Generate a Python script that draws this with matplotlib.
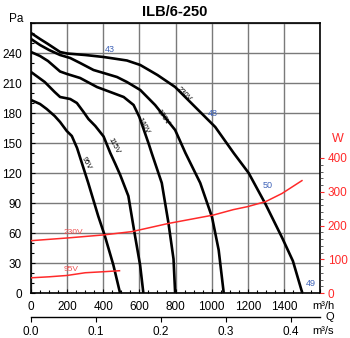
import matplotlib
matplotlib.use("Agg")
import matplotlib.pyplot as plt
import numpy as np
from matplotlib.ticker import FixedLocator

plt.rcParams['font.family'] = ['Liberation Sans', 'DejaVu Sans']

# ---- data (Q in m3/h, pressure in Pa) ----
q_230 = [0, 50, 94, 161, 200, 300, 402, 531, 605, 700, 798, 909, 1020, 1122, 1205, 1298, 1391, 1450, 1502]
p_230 = [260, 254, 249, 241, 239.5, 238, 236, 232.5, 228, 218, 206, 186, 166, 140, 120, 89, 55, 32, 0]

q_170 = [0, 50, 100, 161, 217, 272, 346, 402, 476, 531, 605, 687, 798, 855, 937, 1002, 1039, 1067]
p_170 = [254, 248, 243, 238, 235, 230, 223, 220, 216, 211, 203, 188, 163, 140, 110, 76, 43, 0]

q_140 = [0, 50, 94, 161, 200, 272, 365, 439, 513, 568, 600, 652, 668, 724, 761, 789, 798]
p_140 = [241, 237, 232, 221.5, 219, 215, 206, 201, 196, 188, 176, 149, 140, 110, 70, 34, 0]

q_115 = [0, 76, 131, 161, 217, 254, 291, 318, 356, 402, 439, 467, 494, 539, 576, 604, 622]
p_115 = [221, 211, 201, 196, 194, 190, 181, 174, 167, 156.5, 140, 129, 118, 97, 57, 28, 0]

q_95 = [0, 50, 87, 131, 161, 198, 226, 255, 317, 372, 409, 456, 493]
p_95 = [193, 189, 184, 177, 171, 162, 157, 145, 110, 77, 57, 28, 0]

# power curves (W)
qw_230 = [0, 200, 400, 560, 760, 1010, 1120, 1200, 1300, 1390, 1500]
w_230 = [155, 163, 172, 182, 206, 231, 247, 256, 271, 295, 333]
qw_95 = [0, 100, 200, 300, 400, 490]
w_95 = [45, 48, 52, 60, 63, 66]

x_ticks = [0, 200, 400, 600, 800, 1000, 1200, 1400, 1600]
x_labels = ['0', '200', '400', '600', '800', '1000', '1200', '1400', '']
y_ticks = [0, 30, 60, 90, 120, 150, 180, 210, 240, 270]
y_labels = ['0', '30', '60', '90', '120', '150', '180', '210', '240', '']
w_ticks = [0, 100, 200, 300, 400]
s_ticks = [0.0, 0.1, 0.2, 0.3, 0.4]
s_labels = ['0.0', '0.1', '0.2', '0.3', '0.4']

W, H = 350, 338
fig = plt.figure(figsize=(W / 100, H / 100), dpi=100)
ax = fig.add_axes([31 / W, 1 - 293 / H, 289 / W, 270 / H])
ax.set_xlim(0, 1600)
ax.set_ylim(0, 270)

ax.set_xticks(x_ticks)
ax.set_xticklabels(x_labels)
ax.set_yticks(y_ticks)
ax.set_yticklabels(y_labels)
ax.xaxis.set_minor_locator(FixedLocator(np.arange(0, 1601, 50)))
ax.yaxis.set_minor_locator(FixedLocator(np.arange(0, 271, 10)))
ax.tick_params(axis='both', which='major', direction='in', length=3, width=0.8, labelsize=8.5)
ax.tick_params(axis='both', which='minor', direction='in', length=2.5, width=0.8)
ax.tick_params(axis='y', which='major', pad=6.5)
ax.tick_params(axis='x', which='major', pad=6)
ax.grid(True, which='major', color='#7a7a7a', lw=1.0)
ax.set_axisbelow(True)
for s in ax.spines.values():
    s.set_linewidth(1.2)
    s.set_color('black')

lw = 1.9
for q, p in [(q_230, p_230), (q_170, p_170), (q_140, p_140), (q_115, p_115), (q_95, p_95)]:
    ax.plot(q, p, color='black', lw=lw, solid_joinstyle='round', solid_capstyle='butt', zorder=3)

# curve labels
lab_kw = dict(fontsize=5.5, color='black', ha='center', va='center', zorder=4)
ax.text(844, 199, '230V', rotation=-45, **lab_kw)
ax.text(728, 176, '170V', rotation=-55, **lab_kw)
ax.text(622, 167, '140V', rotation=-60, **lab_kw)
ax.text(456, 147, '115V', rotation=-62, **lab_kw)
ax.text(306, 130, '95V', rotation=-62, **lab_kw)

blue = '#3f63b8'
ax.text(439, 243, '43', color=blue, fontsize=6.5, ha='center', va='center', zorder=4)
ax.text(1006, 179, '48', color=blue, fontsize=6.5, ha='center', va='center', zorder=4)
ax.text(1311, 108, '50', color=blue, fontsize=6.5, ha='center', va='center', zorder=4)
ax.text(1550, 9, '49', color=blue, fontsize=6.5, ha='center', va='center', zorder=4)

# right axis (power)
red = '#ff2a2a'
ax2 = ax.twinx()
ax2.set_ylim(0, 800)
ax2.set_yticks(w_ticks)
ax2.yaxis.set_minor_locator(FixedLocator([v for v in range(0, 401, 20) if v % 100]))
ax2.tick_params(axis='y', which='major', direction='out', length=3, width=0.8, colors=red,
                labelsize=8.5, pad=2.5)
ax2.tick_params(axis='y', which='minor', direction='out', length=2, width=0.6, color='#444444')
for s in ax2.spines.values():
    s.set_visible(False)
ax2.plot(qw_230, w_230, color=red, lw=1.1, zorder=3)
ax2.plot(qw_95, w_95, color=red, lw=1.1, zorder=3)
ax2.text(233, 178, '230V', color='#ee5050', fontsize=6, ha='center', va='center')
ax2.text(222, 70, '95V', color='#ee5050', fontsize=6, ha='center', va='center')

# secondary x axis (m3/s)
sec = ax.secondary_xaxis(-24 / 270, functions=(lambda q: np.asarray(q) / 3600.0,
                                                lambda s: np.asarray(s) * 3600.0))
sec.set_xticks(s_ticks)
sec.set_xticklabels(s_labels)
sec.tick_params(axis='x', which='major', direction='out', length=3.5, width=0.8, labelsize=8.5, pad=3)
sec.spines['bottom'].set_linewidth(1.0)

def fx(px):
    return px / W

def fy(py):
    return 1 - py / H

fig.text(fx(175), fy(12), 'ILB/6-250', fontsize=10.5, fontweight='bold', ha='center', va='center')
fig.text(fx(16), fy(19), 'Pa', fontsize=8.5, ha='center', va='center')
fig.text(fx(338), fy(139), 'W', fontsize=9, color=red, ha='center', va='center')
fig.text(fx(323), fy(306), 'm³/h', fontsize=8, ha='center', va='center')
fig.text(fx(330), fy(317), 'Q', fontsize=8, ha='center', va='center')
fig.text(fx(323), fy(331), 'm³/s', fontsize=8, ha='center', va='center')

fig.savefig('out.png', dpi=100)
